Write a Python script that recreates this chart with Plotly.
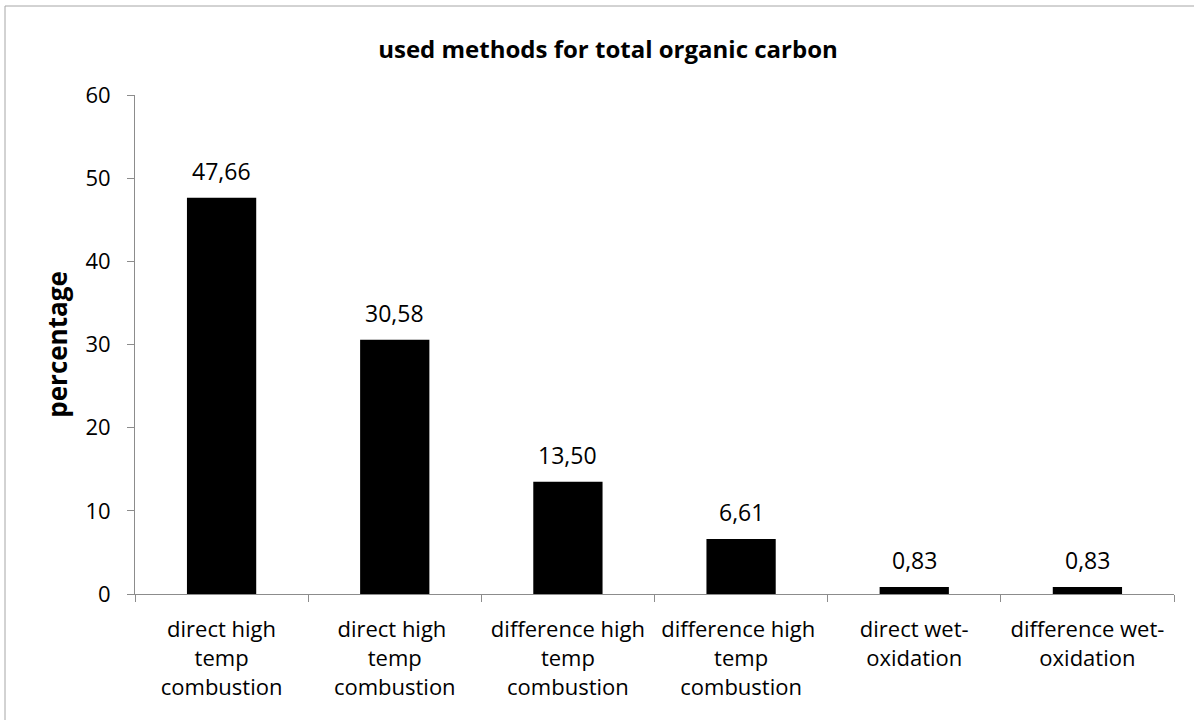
import plotly.graph_objects as go

categories = [
    "direct high<br>temp<br>combustion",
    "direct high <br>temp<br>combustion",
    "difference high<br>temp<br>combustion",
    "difference high <br>temp<br>combustion",
    "direct wet-<br>oxidation",
    "difference wet-<br>oxidation",
]
percentages = [47.66, 30.58, 13.50, 6.61, 0.83, 0.83]

FONT = "Open Sans, sans-serif"
AXIS_GREY = "#8c8c8c"
W, H = 1194, 720
L, R, T, B = 135, 20, 95, 126  # plot area 135..1174 x 95..594

fig = go.Figure(
    go.Bar(
        x=categories,
        y=percentages,
        marker=dict(color="black", line=dict(width=0)),
        hoverinfo="skip",
    )
)

# value labels, Excel-style gap above each bar
for cat, val in zip(categories, percentages):
    fig.add_annotation(
        x=cat, y=val, text=f"{val:.2f}".replace(".", ","),
        showarrow=False, yanchor="middle", yshift=27,
        font=dict(size=23, color="black", family=FONT),
    )

pw, ph = W - L - R, H - T - B
fig.update_layout(
    width=W,
    height=H,
    margin=dict(l=L, r=R, t=T, b=B, autoexpand=False),
    paper_bgcolor="white",
    plot_bgcolor="white",
    bargap=0.6,
    showlegend=False,
    font=dict(family=FONT, size=22, color="black"),
    title=dict(
        text="<b>used methods for total organic carbon</b>",
        x=608 / W, xref="container", xanchor="center",
        y=1 - 50 / H, yref="container", yanchor="middle",
        font=dict(size=24, color="black", family=FONT),
    ),
    shapes=[
        dict(
            type="rect", xref="paper", yref="paper",
            x0=(5 - L) / pw, x1=1.2,
            y0=-0.5, y1=1 + (T - 6) / ph,
            line=dict(color="#a6a6a6", width=1),
            layer="below",
        )
    ],
)

fig.update_xaxes(
    type="category",
    showline=True, linecolor=AXIS_GREY, linewidth=1,
    ticks="outside", tickson="boundaries", ticklen=7, tickcolor=AXIS_GREY,
    showgrid=False, zeroline=False, ticklabelstandoff=16,
    tickfont=dict(size=22, color="black", family=FONT),
)
fig.update_yaxes(
    range=[0, 60], dtick=10,
    showline=True, linecolor=AXIS_GREY, linewidth=1,
    ticks="outside", ticklen=7, tickcolor=AXIS_GREY,
    showgrid=False, zeroline=False, ticklabelstandoff=12,
    tickfont=dict(size=22, color="black", family=FONT),
    title=dict(text="<b>percentage</b>", standoff=10,
               font=dict(size=26, color="black", family=FONT)),
)

fig.write_html(
    "out.html",
    config={"displayModeBar": False},
    post_script="document.body.style.margin='0';",
)
